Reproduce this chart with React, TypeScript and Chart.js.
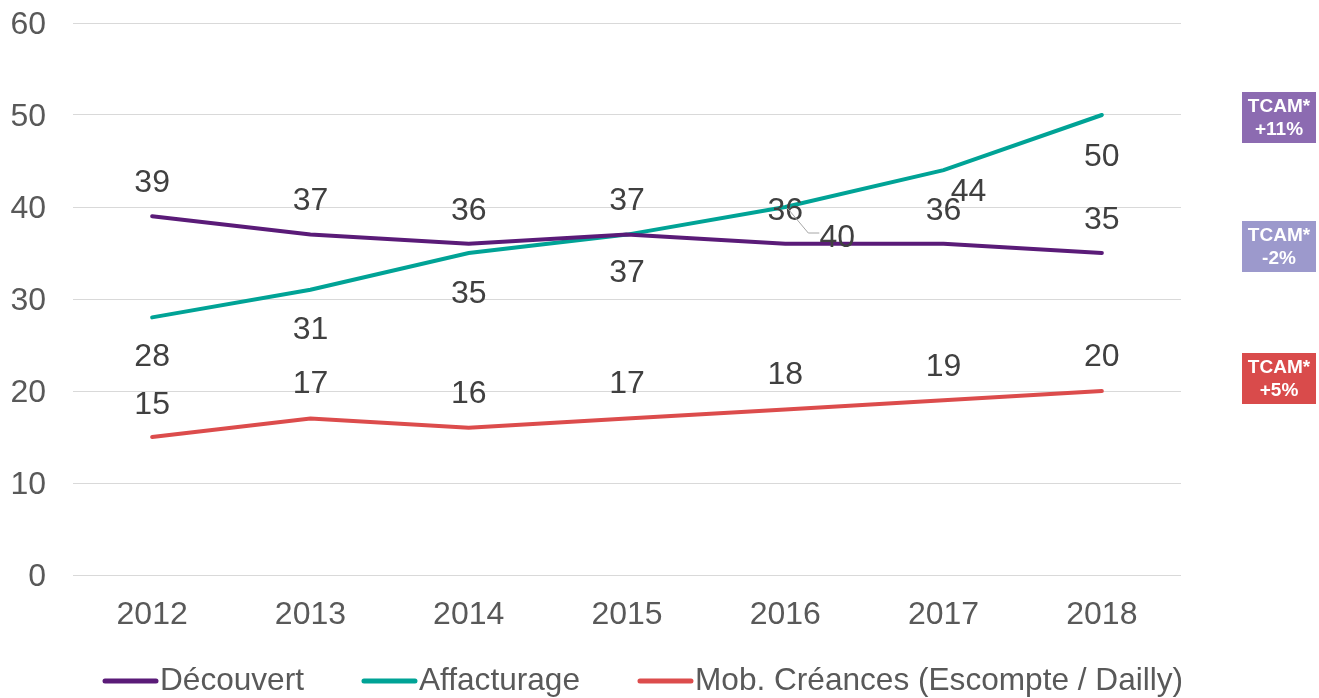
import React, { useEffect, useRef } from "react";
import { Chart, registerables } from "chart.js";

Chart.register(...registerables);

const years = ["2012", "2013", "2014", "2015", "2016", "2017", "2018"];
const decouvert = [39, 37, 36, 37, 36, 36, 35];
const affacturage = [28, 31, 35, 37, 40, 44, 50];
const mobCreances = [15, 17, 16, 17, 18, 19, 20];
const seriesNames = ["Découvert", "Affacturage", "Mob. Créances (Escompte / Dailly)"];
const yTicks = [0, 10, 20, 30, 40, 50, 60];
const tcamLabels = ["+11%", "-2%", "+5%"];

const COLORS = ["#5A1B78", "#00A396", "#DC4C4C"];
const TCAM_COLORS = ["#8C6BB1", "#9C99CC", "#D94B4B"];
const FONT = "'Liberation Sans', Arial, sans-serif";

// label offsets (px) relative to each point: [dx, dy]
const LABEL_OFFSETS: number[][][] = [
  [[0, -33], [0, -33], [0, -33], [0, -33], [0, -33], [0, -33], [0, -33]],
  [[0, 40], [0, 40], [0, 41], [0, 39], [52, 31], [25, 22], [0, 42]],
  [[0, -32], [0, -34], [0, -34], [0, -34], [0, -34], [0, -33], [0, -34]],
];

const labelPlugin = {
  id: "valueLabels",
  afterDatasetsDraw(chart: any) {
    const ctx = chart.ctx;
    ctx.save();
    ctx.font = "32px " + FONT;
    ctx.fillStyle = "#404040";
    ctx.textAlign = "center";
    ctx.textBaseline = "middle";
    chart.data.datasets.forEach((ds: any, di: number) => {
      const meta = chart.getDatasetMeta(di);
      meta.data.forEach((pt: any, i: number) => {
        const [dx, dy] = LABEL_OFFSETS[di][i];
        const x = pt.x + dx;
        const y = pt.y + dy;
        if (di === 1 && i === 4) {
          ctx.save();
          ctx.strokeStyle = "#A6A6A6";
          ctx.lineWidth = 1;
          ctx.beginPath();
          ctx.moveTo(pt.x + 2, pt.y + 1);
          ctx.lineTo(pt.x + 23, pt.y + 26);
          ctx.lineTo(pt.x + 34, pt.y + 26);
          ctx.stroke();
          ctx.restore();
        }
        ctx.fillText(String(ds.data[i]), x, y);
      });
    });
    ctx.restore();
  },
  afterDraw(chart: any) {
    const ctx = chart.ctx;
    ctx.save();
    // legend
    ctx.font = "31.6px " + FONT;
    ctx.textBaseline = "middle";
    ctx.textAlign = "left";
    let x = 103;
    const y = 681;
    seriesNames.forEach((name, i) => {
      ctx.strokeStyle = COLORS[i];
      ctx.lineWidth = 5;
      ctx.lineCap = "round";
      ctx.beginPath();
      ctx.moveTo(x + 2, y);
      ctx.lineTo(x + 53, y);
      ctx.stroke();
      ctx.fillStyle = "#595959";
      ctx.fillText(name, x + 57, y);
      x += 57 + ctx.measureText(name).width + 58;
    });
    // TCAM boxes
    const boxes = [92, 221, 353];
    boxes.forEach((top, i) => {
      ctx.fillStyle = TCAM_COLORS[i];
      ctx.fillRect(1242, top, 74, 51);
      ctx.fillStyle = "#FFFFFF";
      ctx.font = "bold 19px " + FONT;
      ctx.textAlign = "center";
      ctx.fillText("TCAM*", 1279, top + 15);
      ctx.fillText(tcamLabels[i], 1279, top + 38);
    });
    ctx.restore();
  },
};

export default function App() {
  const ref = useRef<HTMLCanvasElement>(null);
  useEffect(() => {
    if (!ref.current) return;
    const chart = new Chart(ref.current, {
      type: "line",
      data: {
        labels: years,
        datasets: [
          { label: seriesNames[0], data: decouvert, borderColor: COLORS[0], backgroundColor: COLORS[0] },
          { label: seriesNames[1], data: affacturage, borderColor: COLORS[1], backgroundColor: COLORS[1] },
          { label: seriesNames[2], data: mobCreances, borderColor: COLORS[2], backgroundColor: COLORS[2] },
        ].map((d) => ({ ...d, borderWidth: 4, pointRadius: 0, tension: 0, borderCapStyle: "round" as const })),
      },
      options: {
        animation: false,
        responsive: false,
        layout: { padding: { top: 23, right: 138, bottom: 63, left: 0 } },
        plugins: { legend: { display: false }, tooltip: { enabled: false } },
        scales: {
          x: {
            offset: true,
            grid: { display: false, drawTicks: false },
            border: { display: false },
            ticks: {
              padding: 21,
              color: "#595959",
              font: { size: 32, family: FONT },
              maxRotation: 0,
            },
            afterFit(scale: any) {
              scale.height = 60;
              scale.paddingLeft = 0;
              scale.paddingRight = 0;
            },
          },
          y: {
            min: 0,
            max: 60,
            afterBuildTicks(scale: any) {
              scale.ticks = yTicks.map((v) => ({ value: v }));
            },
            grid: { color: "#D9D9D9", lineWidth: 1, drawTicks: false },
            border: { display: false },
            ticks: {
              padding: 27,
              labelOffset: 2,
              color: "#595959",
              font: { size: 32, family: FONT },
            },
            afterFit(scale: any) {
              scale.width = 73;
              scale.paddingTop = 0;
              scale.paddingBottom = 0;
            },
          },
        },
      },
      plugins: [labelPlugin],
    });
    return () => chart.destroy();
  }, []);
  return (
    <div style={{ position: "fixed", left: 0, top: 0, width: 1319, height: 698, background: "#fff" }}>
      <canvas ref={ref} width={1319} height={698} style={{ display: "block" }} />
    </div>
  );
}
